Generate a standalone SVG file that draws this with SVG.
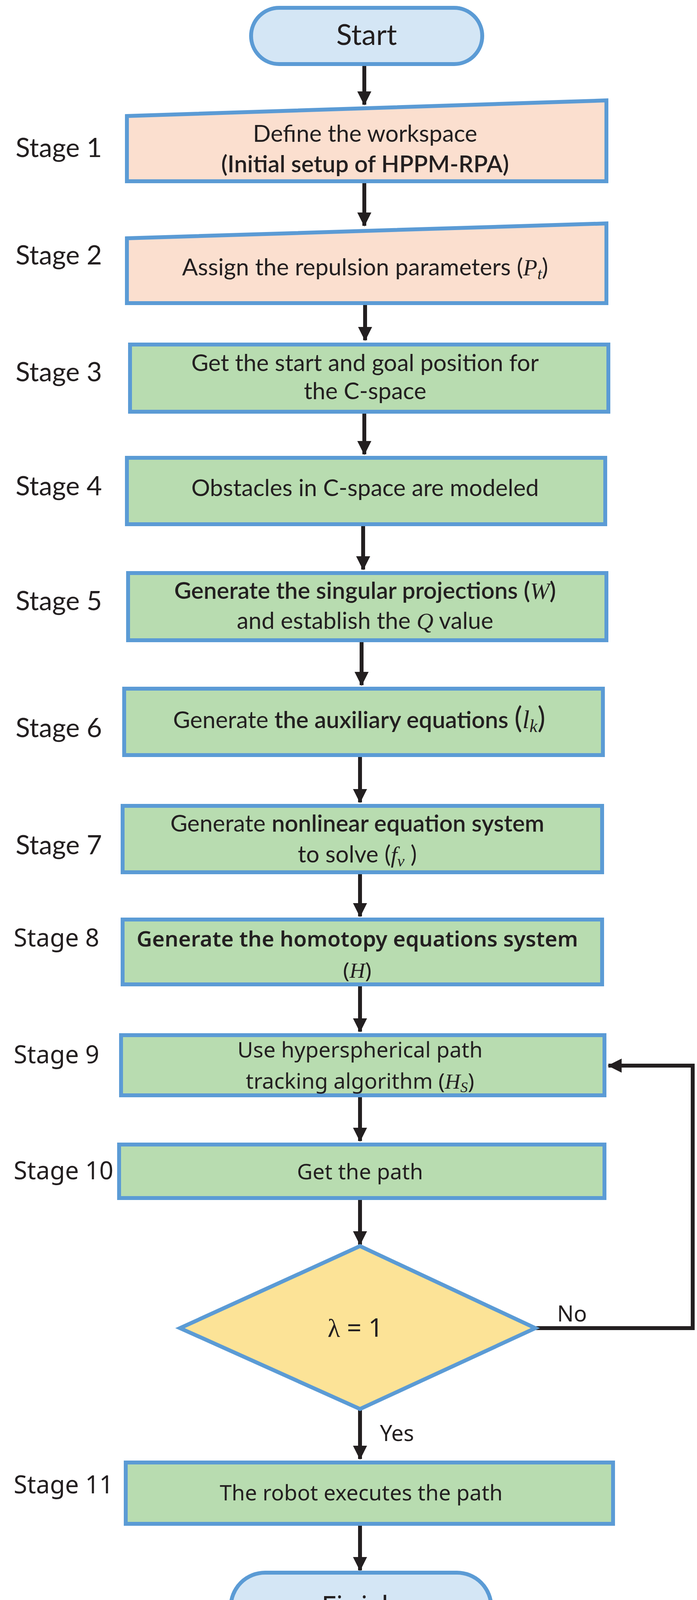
<svg xmlns="http://www.w3.org/2000/svg" width="1785" height="4211" viewBox="0 0 1785 4211">
<defs>
<marker id="ah" markerUnits="userSpaceOnUse" markerWidth="36" markerHeight="46" refX="34" refY="18" orient="auto">
<path d="M0,0 L36,18 L0,36 Z" fill="#231f20"/>
</marker>
<style>
.b{stroke:#5b9bd5;stroke-width:10}
.g{fill:#b8dcb0}.p{fill:#fbdfcf}.t{fill:#d4e6f5}.y{fill:#fce397}
.c{stroke:#231f20;stroke-width:10;fill:none}
.f1{font-family:Lato,"Open Sans",sans-serif;font-size:60px;fill:#231f20;text-anchor:middle}
.f2{font-family:"Noto Sans","Open Sans",sans-serif;font-size:55px;fill:#231f20;text-anchor:middle}
.s1{font-family:Lato,sans-serif;font-size:68px;fill:#231f20}
.s2{font-family:"Noto Sans",sans-serif;font-size:63px;fill:#231f20}
.m{font-family:"Liberation Serif",serif;font-style:italic;font-weight:normal}
</style>
</defs>
<g id="connectors">
<line class="c" x1="933" y1="164" x2="933" y2="268" marker-end="url(#ah)"/>
<line class="c" x1="933" y1="467" x2="933" y2="578" marker-end="url(#ah)"/>
<line class="c" x1="935" y1="779" x2="935" y2="871" marker-end="url(#ah)"/>
<line class="c" x1="933" y1="1058" x2="933" y2="1163" marker-end="url(#ah)"/>
<line class="c" x1="930" y1="1346" x2="930" y2="1458" marker-end="url(#ah)"/>
<line class="c" x1="926" y1="1643" x2="926" y2="1754" marker-end="url(#ah)"/>
<line class="c" x1="922" y1="1937" x2="922" y2="2054" marker-end="url(#ah)"/>
<line class="c" x1="922" y1="2237" x2="922" y2="2346" marker-end="url(#ah)"/>
<line class="c" x1="922" y1="2524" x2="922" y2="2641" marker-end="url(#ah)"/>
<line class="c" x1="922" y1="2808" x2="922" y2="2921" marker-end="url(#ah)"/>
<line class="c" x1="922" y1="3071" x2="922" y2="3186" marker-end="url(#ah)"/>
<line class="c" x1="922" y1="3607" x2="922" y2="3735" marker-end="url(#ah)"/>
<line class="c" x1="922" y1="3905" x2="922" y2="4020" marker-end="url(#ah)"/>
<polyline class="c" points="1371,3400 1774,3400 1774,2728 1558,2728" marker-end="url(#ah)"/>
<text class="f2" x="1465" y="3383" style="font-size:56px">No</text>
<text class="f2" x="973" y="3689" style="font-size:56px;text-anchor:start">Yes</text>
</g>
<g id="start">
<rect class="b t" x="643" y="20" width="592" height="144" rx="72"/>
<text class="f1" x="939" y="115" style="font-size:74px">Start</text>
</g>
<g id="stage1">
<text class="s1" x="40" y="402">Stage 1</text>
<polygon class="b p" points="325,297 1553,257 1553,464 325,464"/>
<text class="f1" x="935" y="363">Define the workspace</text>
<text class="f1" x="935" y="441" font-weight="600">(Initial setup of HPPM-RPA)</text>
</g>
<g id="stage2">
<text class="s1" x="40" y="677">Stage 2</text>
<polygon class="b p" points="325,610 1553,572 1553,776 325,776"/>
<text class="f1" x="935" y="705">Assign the repulsion parameters (<tspan class="m">P</tspan><tspan class="m" font-size="42" dy="10">t</tspan><tspan dy="-10">)</tspan></text>
</g>
<g id="stage3">
<text class="s1" x="40" y="976">Stage 3</text>
<rect class="b g" x="333" y="882" width="1225" height="172"/>
<text class="f1" x="935" y="950">Get the start and goal position for</text>
<text class="f1" x="935" y="1022">the C-space</text>
</g>
<g id="stage4">
<text class="s1" x="40" y="1268">Stage 4</text>
<rect class="b g" x="325" y="1172" width="1225" height="170"/>
<text class="f1" x="935" y="1270">Obstacles in C-space are modeled</text>
</g>
<g id="stage5">
<text class="s1" x="40" y="1562">Stage 5</text>
<rect class="b g" x="328" y="1467" width="1225" height="172"/>
<text class="f1" x="935" y="1533" font-weight="600">Generate the singular projections (<tspan class="m">W</tspan>)</text>
<text class="f1" x="935" y="1610">and establish the <tspan class="m">Q</tspan> value</text>
</g>
<g id="stage6">
<text class="s1" x="40" y="1887">Stage 6</text>
<rect class="b g" x="318" y="1763" width="1226" height="170"/>
<text class="f1" x="920" y="1864">Generate <tspan font-weight="600">the auxiliary equations</tspan> <tspan font-size="76">(</tspan><tspan class="m" font-size="66">l</tspan><tspan class="m" font-size="46" dy="10">k</tspan><tspan font-size="76" dy="-10">)</tspan></text>
</g>
<g id="stage7">
<text class="s1" x="40" y="2187">Stage 7</text>
<rect class="b g" x="314" y="2063" width="1228" height="170"/>
<text class="f1" x="915" y="2129">Generate <tspan font-weight="600">nonlinear equation system</tspan></text>
<text class="f1" x="915" y="2208">to solve (<tspan class="m">f</tspan><tspan class="m" font-size="42" dy="10">v</tspan><tspan dy="-10"> )</tspan></text>
</g>
<g id="stage8">
<text class="s2" x="35" y="2423">Stage 8</text>
<rect class="b g" x="314" y="2354" width="1228" height="166"/>
<text class="f2" x="915" y="2423" font-weight="600">Generate the homotopy equations system</text>
<text class="f2" x="915" y="2503">(<tspan class="m">H</tspan>)</text>
</g>
<g id="stage9">
<text class="s2" x="35" y="2722">Stage 9</text>
<rect class="b g" x="310" y="2650" width="1238" height="154"/>
<text class="f2" x="922" y="2707">Use hyperspherical path</text>
<text class="f2" x="922" y="2787">tracking algorithm (<tspan class="m">H</tspan><tspan class="m" font-size="38" dy="9">S</tspan><tspan dy="-9">)</tspan></text>
</g>
<g id="stage10">
<text class="s2" x="35" y="3019">Stage 10</text>
<rect class="b g" x="305" y="2930" width="1243" height="137"/>
<text class="f2" x="922" y="3019">Get the path</text>
</g>
<g id="decision">
<polygon class="b y" points="922,3190 1371,3400 922,3607 461,3400"/>
<text class="f2" x="910" y="3422" style="font-size:66px"><tspan font-family="'Liberation Serif',serif">λ</tspan> = 1</text>
</g>
<g id="stage11">
<text class="s2" x="35" y="3823">Stage 11</text>
<rect class="b g" x="322" y="3744" width="1248" height="157"/>
<text class="f2" x="925" y="3841">The robot executes the path</text>
</g>
<g id="finish">
<rect class="b t" x="591" y="4026" width="667" height="176" rx="88"/>
<text class="f2" x="922" y="4137" style="font-size:72px">Finish</text>
</g>
</svg>
